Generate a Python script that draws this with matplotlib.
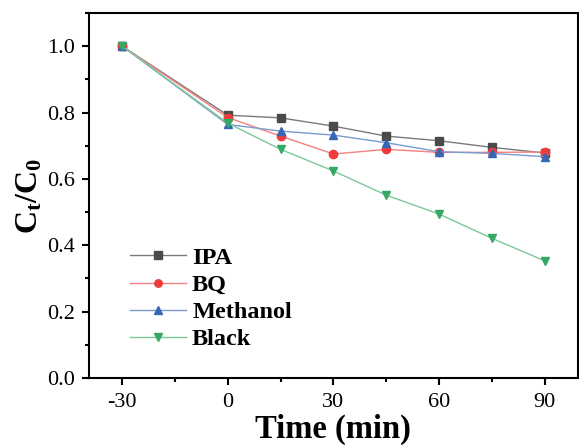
import matplotlib.pyplot as plt
from matplotlib.ticker import MultipleLocator

plt.rcParams["font.family"] = ["Liberation Serif", "DejaVu Serif"]
plt.rcParams["mathtext.fontset"] = "custom"
plt.rcParams["mathtext.rm"] = "Liberation Serif"
plt.rcParams["mathtext.bf"] = "Liberation Serif:bold"
plt.rcParams["axes.unicode_minus"] = False

time = [-30, 0, 15, 30, 45, 60, 75, 90]
ipa = [1.0, 0.792, 0.784, 0.759, 0.729, 0.715, 0.695, 0.678]
bq = [1.0, 0.785, 0.729, 0.675, 0.689, 0.680, 0.680, 0.681]
methanol = [1.0, 0.764, 0.744, 0.732, 0.709, 0.682, 0.677, 0.667]
black = [1.0, 0.768, 0.689, 0.624, 0.551, 0.494, 0.421, 0.353]

series = [
    ("IPA", ipa, "s", "#4a4a4a", "#7a7a7a"),
    ("BQ", bq, "o", "#f03c3c", "#f58080"),
    ("Methanol", methanol, "^", "#3567b5", "#7b9bd0"),
    ("Black", black, "v", "#34a864", "#7cc89a"),
]

fig = plt.figure(figsize=(5.79, 4.45), dpi=100)
ax = fig.add_axes([0.1537, 0.1506, 0.8443, 0.8202])

for name, vals, mk, mc, lc in series:
    ax.plot(time, vals, color=lc, lw=1.0, marker=mk, ms=6,
            mfc=mc, mec=mc, label=name)

ax.set_xlim(-39.4, 99.4)
ax.set_ylim(0, 1.1)
ax.set_xticks([-30, 0, 30, 60, 90])
ax.xaxis.set_minor_locator(MultipleLocator(15))
ax.set_yticks([0.0, 0.2, 0.4, 0.6, 0.8, 1.0])
ax.yaxis.set_minor_locator(MultipleLocator(0.1))
ax.tick_params(which="both", direction="out", width=1.5, labelsize=16)
ax.tick_params(which="major", length=5)
ax.tick_params(which="minor", length=3)
ax.tick_params(axis="x", which="major", pad=6)
ax.tick_params(axis="y", which="major", pad=5)
for s in ax.spines.values():
    s.set_linewidth(1.5)

ax.set_xlabel("Time (min)", fontsize=23.5, fontweight="bold", labelpad=1)
ax.set_ylabel(r"$\mathbf{C_t/C_0}$", fontsize=23, labelpad=2)

ax.legend(loc="lower left", bbox_to_anchor=(0.084, 0.076), frameon=False,
          prop={"weight": "bold", "size": 17.5}, handlelength=2.3,
          handletextpad=0.25, labelspacing=0.21, borderpad=0,
          borderaxespad=0, markerscale=0.9)

fig.savefig("out.png", dpi=100)
